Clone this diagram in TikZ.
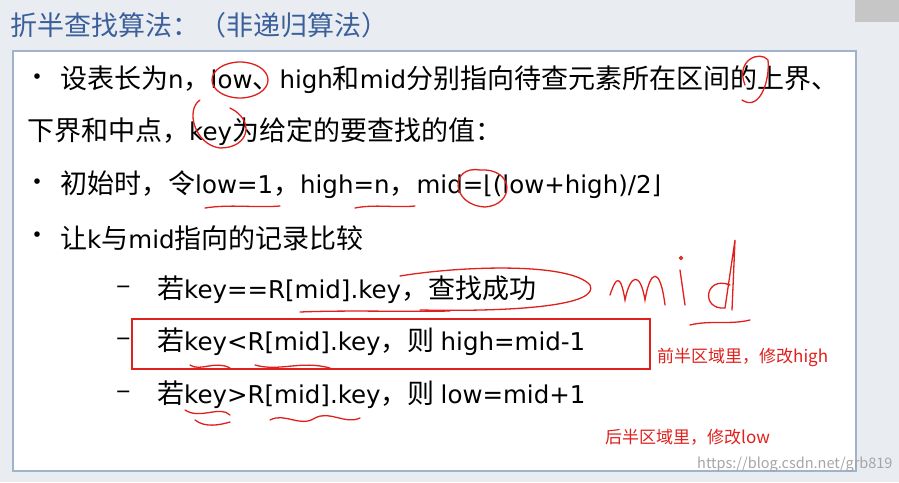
\documentclass[tikz,border=0pt]{standalone}
\usepackage{fontspec}
\setmainfont{Noto Sans CJK SC}
\newfontfamily\djv{DejaVu Sans}
\newcommand\E[1]{{\djv\fontsize{24.5}{28}\selectfont #1}}
\definecolor{titleblue}{HTML}{3A5F9A}
\definecolor{boxline}{HTML}{9FB3CC}
\definecolor{bg}{HTML}{E9EDF2}
\definecolor{hand}{HTML}{E0201C}
\begin{document}
\begin{tikzpicture}[x=1pt,y=-1pt,
  line/.style={anchor=west,inner sep=0pt,font=\fontsize{27}{30}\selectfont},
  bul/.style={anchor=center,inner sep=0pt,font=\fontsize{26}{26}\selectfont},
  note/.style={anchor=west,inner sep=0pt,text=hand,font=\fontsize{17}{19}\selectfont},
  ink/.style={draw=hand,line width=1.3pt,line cap=round}]
\useasboundingbox (0,0) rectangle (899,482);
\fill[bg] (0,0) rectangle (899,482);
\fill[gray!45] (855,0) rectangle (899,22);
\node[anchor=west,inner sep=0pt,text=titleblue,font=\fontsize{27}{30}\selectfont] (title) at (10,25) {折半查找算法：（非递归算法）};
\node[draw=boxline,line width=1.5pt,fill=white,anchor=north west,minimum width=843pt,minimum height=420pt,inner sep=0pt] (box) at (12,50) {};
\begin{scope}
\clip (0,0) rectangle (899,482);
\node[bul] (b1) at (37,80) {•};
\node[line] (l1) at (60,80) {设表长为\E{n}，\E{low}、\E{high}和\E{mid}分别指向待查元素所在区间的上界、};
\end{scope}
\node[line] (l2) at (27,132) {下界和中点，\E{key}为给定的要查找的值：};
\node[bul] (b3) at (37,185) {•};
\node[line] (l3) at (60,185) {初始时，令\E{low=1}，\E{high=n}，\E{mid=⌊(low+high)/2⌋}};
\node[bul] (b4) at (37,238) {•};
\node[line] (l4) at (60,238) {让\E{k}与\E{mid}指向的记录比较};
\node[line] (d5) at (116,290) {–};
\node[line] (l5) at (157,290) {若\E{key==R[mid].key}，查找成功};
\node[line] (d6) at (116,342) {–};
\node[line] (l6) at (157,342) {若\E{key<R[mid].key}，则 \E{high=mid-1}};
\node[line] (d7) at (116,395) {–};
\node[line] (l7) at (157,395) {若\E{key>R[mid].key}，则 \E{low=mid+1}};
\node[draw=hand,line width=1.5pt,anchor=north west,minimum width=518pt,minimum height=50pt,inner sep=0pt] (rbox) at (131,318) {};
\node[note] (n1) at (657,357) {前半区域里，修改high};
\node[note] (n2) at (605,437) {后半区域里，修改low};
\node[anchor=west,inner sep=0pt,text=gray!70,font=\fontsize{14.5}{16}\selectfont] (wm) at (697,465) {https://blog.csdn.net/grb819};
% handwriting
\draw[ink] (240,80) ellipse (28 and 18);
\draw[ink] (745,85) .. controls (735,60) and (760,50) .. (768,60) .. controls (770,80) and (760,112) .. (742,100);
\draw[ink] (200,100) .. controls (185,110) and (195,145) .. (220,148) .. controls (250,148) and (255,120) .. (230,108);
\draw[ink] (205,208) .. controls (230,204) and (255,208) .. (280,206);
\draw[ink] (355,208) .. controls (375,204) and (395,208) .. (415,206);
\draw[ink] (480,170) .. controls (450,165) and (450,205) .. (485,207) .. controls (515,205) and (515,168) .. (480,170);
\draw[ink] (400,276) .. controls (460,266) and (570,262) .. (590,285) .. controls (600,305) and (520,312) .. (420,310);
\draw[ink] (300,312) .. controls (350,310) and (400,312) .. (450,311);
\draw[ink] (610,295) .. controls (615,280) and (620,270) .. (625,300) .. controls (630,275) and (640,270) .. (645,300) .. controls (650,270) and (660,265) .. (665,305);
\draw[ink] (680,270) -- (685,305);
\draw[ink] (681,258) circle (1.5);
\draw[ink] (730,285) .. controls (705,275) and (700,310) .. (725,308) -- (735,240) -- (732,310);
\draw[ink] (690,325) .. controls (710,320) and (730,325) .. (750,320);
\draw[ink] (190,365) .. controls (200,372) and (215,360) .. (230,368);
\draw[ink] (255,365) .. controls (280,372) and (300,360) .. (330,368);
\draw[ink] (185,410) .. controls (200,420) and (220,405) .. (230,415);
\draw[ink] (195,420) .. controls (205,428) and (220,425) .. (230,422);
\draw[ink] (270,420) .. controls (285,412) and (300,428) .. (315,418) .. controls (330,410) and (345,425) .. (360,418);
\end{tikzpicture}
\end{document}
